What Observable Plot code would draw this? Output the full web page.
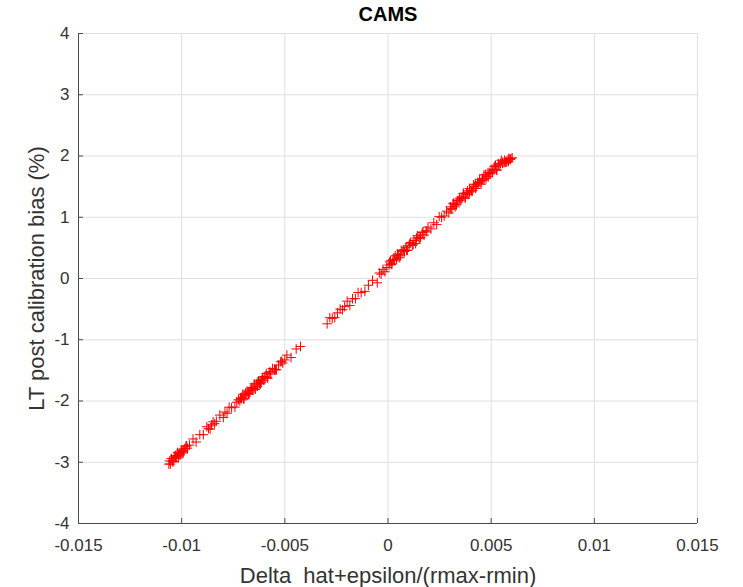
<!DOCTYPE html>
<html>
<head>
<meta charset="utf-8">
<script src="https://cdn.jsdelivr.net/npm/d3@7"></script>
<script src="https://cdn.jsdelivr.net/npm/@observablehq/plot@0.6"></script>
<style>
  html, body { margin: 0; padding: 0; background: #fff; }
  #chart svg { display: block; }
</style>
</head>
<body>
<div id="chart"></div>
<script>
const title = "CAMS";
const xLabel = "Delta  hat+epsilon/(rmax-rmin)";
const yLabel = "LT post calibration bias (%)";
const xTicks = [-0.015, -0.01, -0.005, 0, 0.005, 0.01, 0.015];
const xTickLabels = ["-0.015", "-0.01", "-0.005", "0", "0.005", "0.01", "0.015"];
const yTicks = [-4, -3, -2, -1, 0, 1, 2, 3, 4];

// Delta hat+epsilon/(rmax-rmin)
const deltaX = [
  -0.01062, -0.01055, -0.01050, -0.01046, -0.01041, -0.01037, -0.01033, -0.01028, -0.01024, -0.01020,
  -0.01016, -0.01012, -0.01007, -0.01003, -0.00998, -0.00993, -0.00987, -0.00980, -0.00972, -0.00962,
  -0.00945, -0.00930, -0.00912, -0.00895, -0.00878, -0.00870, -0.00862, -0.00855, -0.00848, -0.00840,
  -0.00832, -0.00815,
  -0.00798, -0.00790, -0.00780, -0.00770, -0.00758,
  -0.00742, -0.00733, -0.00725, -0.00718, -0.00710, -0.00704, -0.00698, -0.00693, -0.00688, -0.00683,
  -0.00678, -0.00673, -0.00668, -0.00663, -0.00658, -0.00653, -0.00648, -0.00643, -0.00638, -0.00633,
  -0.00628, -0.00623, -0.00618, -0.00613, -0.00608, -0.00602, -0.00596, -0.00590, -0.00583, -0.00576,
  -0.00568, -0.00560, -0.00550, -0.00540, -0.00530, -0.00520, -0.00510, -0.00500, -0.00490,
  -0.00470, -0.00445, -0.00424,
  -0.00295, -0.00282, -0.00270, -0.00258, -0.00245, -0.00232, -0.00220, -0.00210, -0.00198, -0.00185,
  -0.00172, -0.00158, -0.00145, -0.00130, -0.00112, -0.00095, -0.00075, -0.00052,
  -0.00042, -0.00033, -0.00024, -0.00015, -0.00006,
  0.00005, 0.00012, 0.00020, 0.00028, 0.00035, 0.00042, 0.00050, 0.00057, 0.00064, 0.00072,
  0.00080, 0.00087, 0.00094, 0.00102, 0.00110, 0.00118, 0.00126, 0.00134, 0.00142, 0.00150,
  0.00158, 0.00166, 0.00175, 0.00184, 0.00194,
  0.00208, 0.00222, 0.00236, 0.00248, 0.00260, 0.00272, 0.00284, 0.00295,
  0.00302, 0.00310, 0.00318, 0.00325, 0.00332, 0.00339, 0.00346, 0.00353, 0.00360, 0.00367,
  0.00374, 0.00381, 0.00388, 0.00395, 0.00402, 0.00409, 0.00416, 0.00423, 0.00430, 0.00437,
  0.00444, 0.00451, 0.00458, 0.00465, 0.00472, 0.00479, 0.00486, 0.00493, 0.00500, 0.00507,
  0.00514, 0.00521, 0.00528, 0.00535, 0.00542, 0.00549, 0.00556, 0.00563, 0.00570, 0.00577,
  0.00584, 0.00590, 0.00596, 0.00602,
  // second pass of readings in the dense stretches
  0.00305, 0.00315, 0.00325, 0.00335, 0.00345, 0.00355, 0.00365, 0.00375, 0.00385, 0.00395,
  0.00405, 0.00415, 0.00425, 0.00435, 0.00445, 0.00455, 0.00465, 0.00475, 0.00485, 0.00495,
  0.00505, 0.00515, 0.00525, 0.00535, 0.00545, 0.00555, 0.00565, 0.00575, 0.00585, 0.00593,
  0.00008, 0.00016, 0.00024, 0.00032, 0.00046, 0.00060, 0.00076, 0.00090, 0.00106, 0.00122,
  0.00138, 0.00154, 0.00170, 0.00188,
  -0.00715, -0.00700, -0.00690, -0.00675, -0.00660, -0.00645, -0.00630, -0.00615, -0.00600, -0.00585,
  -0.00572, -0.00545, -0.00515,
  -0.01058, -0.01043, -0.01030, -0.01014, -0.01000, -0.00990, -0.00976
];

// LT post calibration bias (%)
const biasY = [
  -3.03, -3.03, -2.94, -2.98, -2.99, -2.93, -2.90, -2.93, -2.90, -2.84,
  -2.93, -2.85, -2.88, -2.80, -2.83, -2.85, -2.78, -2.74, -2.77, -2.72,
  -2.62, -2.67, -2.55, -2.55, -2.42, -2.45, -2.46, -2.39, -2.34, -2.37,
  -2.33, -2.23,
  -2.27, -2.18, -2.20, -2.10, -2.11,
  -2.10, -2.02, -1.98, -2.00, -1.96, -1.89, -1.97, -1.89, -1.92, -1.84,
  -1.87, -1.89, -1.82, -1.79, -1.82, -1.79, -1.72, -1.81, -1.72, -1.76,
  -1.67, -1.71, -1.72, -1.66, -1.62, -1.66, -1.62, -1.55, -1.63, -1.54,
  -1.56, -1.47, -1.49, -1.49, -1.41, -1.36, -1.38, -1.33, -1.25,
  -1.29, -1.15, -1.11,
  -0.74, -0.64, -0.65, -0.64, -0.56, -0.50, -0.51, -0.46, -0.37, -0.44,
  -0.33, -0.33, -0.23, -0.23, -0.21, -0.11, -0.03, -0.07,
  0.09, 0.07, 0.15, 0.11, 0.18,
  0.22, 0.29, 0.24, 0.31, 0.37, 0.32, 0.39, 0.34, 0.46, 0.44,
  0.44, 0.51, 0.46, 0.54, 0.59, 0.54, 0.62, 0.57, 0.70, 0.67,
  0.67, 0.75, 0.71, 0.78, 0.84,
  0.81, 0.91, 0.88, 1.01, 1.00, 1.02, 1.10, 1.07,
  1.17, 1.14, 1.23, 1.21, 1.20, 1.27, 1.31, 1.28, 1.32, 1.39,
  1.31, 1.40, 1.37, 1.47, 1.44, 1.43, 1.50, 1.54, 1.51, 1.55,
  1.62, 1.54, 1.63, 1.61, 1.70, 1.67, 1.66, 1.73, 1.77, 1.74,
  1.78, 1.85, 1.77, 1.87, 1.84, 1.93, 1.90, 1.89, 1.90, 1.93,
  1.91, 1.95, 1.96, 1.97,
  1.13, 1.22, 1.17, 1.27, 1.28, 1.30, 1.39, 1.33, 1.43, 1.41,
  1.43, 1.53, 1.47, 1.57, 1.58, 1.60, 1.69, 1.63, 1.73, 1.71,
  1.73, 1.83, 1.77, 1.87, 1.88, 1.88, 1.93, 1.90, 1.96, 1.94,
  0.27, 0.23, 0.31, 0.29, 0.40, 0.37, 0.47, 0.46, 0.57, 0.56,
  0.66, 0.65, 0.76, 0.76,
  -1.95, -1.96, -1.87, -1.88, -1.78, -1.79, -1.69, -1.70, -1.60, -1.61,
  -1.52, -1.49, -1.35,
  -2.98, -2.99, -2.89, -2.90, -2.81, -2.82, -2.73
];

const points = deltaX.map((x, i) => ({x, y: biasY[i]}));

const font = "'Liberation Sans', Arial, Helvetica, sans-serif";

const chart = Plot.plot({
  width: 743,
  height: 587,
  marginLeft: 78,
  marginRight: 46,
  marginTop: 33,
  marginBottom: 64,
  style: {fontFamily: font, fontSize: "17px", color: "#333", background: "#fff"},
  x: {domain: [-0.015, 0.015]},
  y: {domain: [-4, 4]},
  marks: [
    Plot.gridX(xTicks, {stroke: "#e0e0e0", strokeOpacity: 1}),
    Plot.gridY(yTicks, {stroke: "#e0e0e0", strokeOpacity: 1}),
    Plot.axisX({
      ticks: xTicks,
      tickFormat: (d) => xTickLabels[xTicks.indexOf(d)],
      tickSize: -5,
      tickPadding: 20,
      stroke: "#4d4d4d",
      label: null,
      fill: "#333",
      fontSize: 17
    }),
    Plot.axisY({
      ticks: yTicks,
      tickFormat: d => String(d),
      tickSize: -5,
      tickPadding: 14,
      stroke: "#4d4d4d",
      label: null,
      fill: "#333",
      fontSize: 17
    }),
    Plot.ruleX([-0.015], {stroke: "#4d4d4d"}),
    Plot.ruleY([-4], {stroke: "#4d4d4d"}),
    Plot.dot(points, {x: "x", y: "y", symbol: "plus", r: 3.2, stroke: "#ff0000", strokeWidth: 1}),
    Plot.text([title], {frameAnchor: "top", dy: -27, fontWeight: "bold", fontSize: 20, fill: "#000"}),
    Plot.text([xLabel], {frameAnchor: "bottom", dy: 59, fontSize: 22, fill: "#333"}),
    Plot.text([yLabel], {frameAnchor: "left", textAnchor: "middle", dx: -42, rotate: -90, fontSize: 22, fill: "#333"})
  ]
});

document.getElementById("chart").append(chart);
</script>
</body>
</html>
